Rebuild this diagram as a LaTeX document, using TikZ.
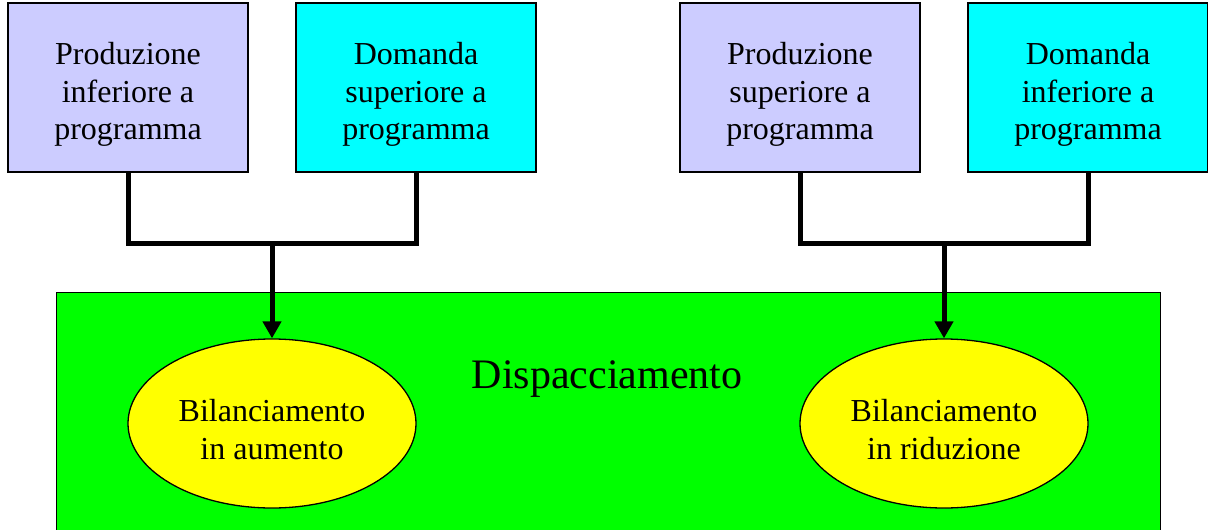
\documentclass[tikz,border=0pt]{standalone}
\usepackage{fontspec}
\setmainfont{Liberation Serif}
\usetikzlibrary{arrows.meta,shapes.geometric}
\definecolor{lav}{HTML}{CCCCFF}
\definecolor{cy}{HTML}{00FFFF}
\definecolor{gr}{HTML}{00FF00}
\definecolor{ye}{HTML}{FFFF00}
\begin{document}
\begin{tikzpicture}[x=1pt,y=1pt,
  box/.style={draw=black,line width=1.3pt,minimum width=240pt,minimum height=169pt,inner sep=0pt},
  ell/.style={draw=black,ellipse,line width=1.3pt,fill=ye,minimum width=288pt,minimum height=169pt,inner sep=0pt},
  txt/.style={align=center,inner sep=0pt,font=\fontsize{32}{37.5}\selectfont},
  conn/.style={line width=5pt,line join=miter},
  arr/.style={line width=5pt,-{Triangle[width=18pt,length=17pt]}}]
\useasboundingbox (0,0) rectangle (1208,-530);
\node[draw=black,line width=1.3pt,fill=gr,minimum width=1104pt,minimum height=250pt,anchor=north west,inner sep=0pt] (disp) at (56,-292) {};
\node[font=\fontsize{42}{48}\selectfont,anchor=base] (dt) at (607,-388) {Dispacciamento};
\node[box,fill=lav] (b1) at (128,-87.5) {};
\node[box,fill=cy] (b2) at (416,-87.5) {};
\node[box,fill=lav] (b3) at (800,-87.5) {};
\node[box,fill=cy] (b4) at (1088,-87.5) {};
\node[txt,yshift=-7pt] (t1) at (b1) {Produzione\\inferiore a\\programma};
\node[txt,yshift=-7pt] (t2) at (b2) {Domanda\\superiore a\\programma};
\node[txt,yshift=-7pt] (t3) at (b3) {Produzione\\superiore a\\programma};
\node[txt,yshift=-7pt] (t4) at (b4) {Domanda\\inferiore a\\programma};
\node[ell] (e1) at (272,-423.5) {};
\node[ell] (e2) at (944,-423.5) {};
\node[txt,yshift=-6pt] (u1) at (e1) {Bilanciamento\\in aumento};
\node[txt,yshift=-6pt] (u2) at (e2) {Bilanciamento\\in riduzione};
\coordinate (j1) at (272,-243);
\coordinate (j2) at (944,-243);
\draw[conn] (b1.south) |- (j1) -| (b2.south);
\draw[conn] (b3.south) |- (j2) -| (b4.south);
\draw[arr] (j1) -- (e1.north);
\draw[arr] (j2) -- (e2.north);
\end{tikzpicture}
\end{document}
